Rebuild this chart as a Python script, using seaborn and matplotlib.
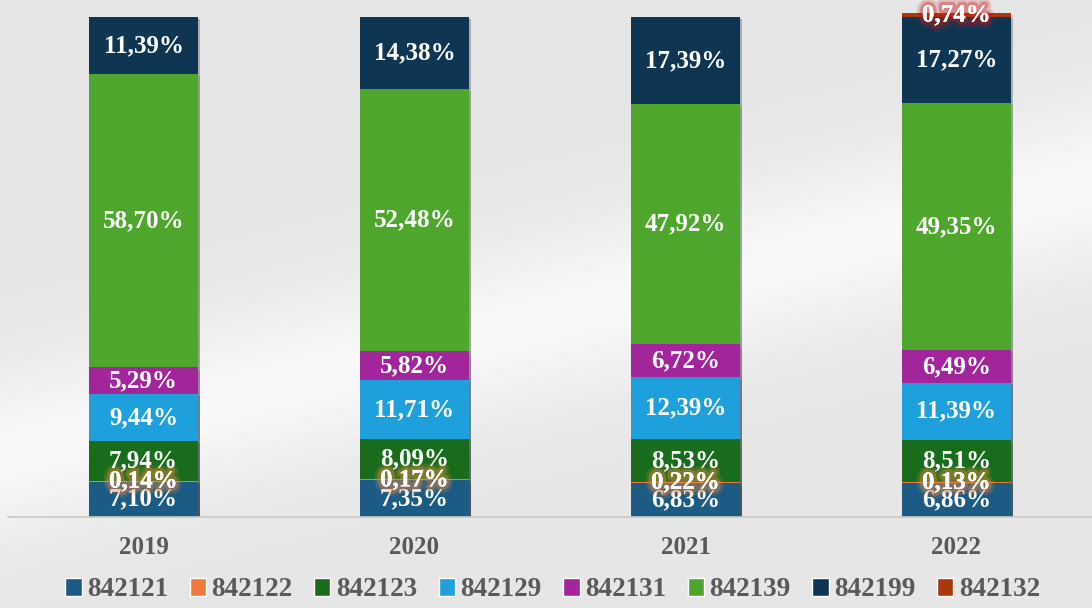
import matplotlib
matplotlib.use("Agg")
import matplotlib.pyplot as plt
import matplotlib.patheffects as pe
from matplotlib.patches import Patch
import seaborn as sns
import pandas as pd
import numpy as np

# data (shares in %)
years = ["2019", "2020", "2021", "2022"]
codes = ["842121", "842122", "842123", "842129", "842131", "842139", "842199", "842132"]
v842121 = [7.10, 7.35, 6.83, 6.86]
v842122 = [0.14, 0.17, 0.22, 0.13]
v842123 = [7.94, 8.09, 8.53, 8.51]
v842129 = [9.44, 11.71, 12.39, 11.39]
v842131 = [5.29, 5.82, 6.72, 6.49]
v842139 = [58.70, 52.48, 47.92, 49.35]
v842199 = [11.39, 14.38, 17.39, 17.27]
v842132 = [0.0, 0.0, 0.0, 0.74]

colors = ["#1c5c84", "#f07a3a", "#186c1c", "#1ea0dc", "#a2259c", "#4ea72c", "#0e3652", "#a8380e"]
glow = {"842122": "#f08a40", "842132": "#c81818"}

df = pd.DataFrame({"year": years, "842121": v842121, "842122": v842122, "842123": v842123,
                   "842129": v842129, "842131": v842131, "842139": v842139,
                   "842199": v842199, "842132": v842132})
cum = df[codes].cumsum(axis=1)

sns.set_style("white")
plt.rcParams["font.family"] = ["Liberation Serif", "DejaVu Serif"]

fig = plt.figure(figsize=(10.92, 6.08), dpi=100)
fig.patch.set_facecolor("#e9e9e9")

# soft background with a light diagonal sweep
bg = fig.add_axes([0, 0, 1, 1], zorder=-1)
yy, xx = np.mgrid[0:1:200j, 0:1:300j]
band = np.exp(-((yy - (0.75 - 0.45 * xx)) ** 2) / 0.02)
bg.imshow(0.90 + 0.07 * band, cmap="gray", vmin=0, vmax=1, aspect="auto", extent=[0, 1, 0, 1])
bg.axis("off")

ax = fig.add_axes([8 / 1092, 91 / 608, 1 - 8 / 1092, 517 / 608])
ax.patch.set_alpha(0)

# stacked bars drawn as cumulative heights, topmost first
for code, col in reversed(list(zip(codes, colors))):
    sns.barplot(x=df["year"], y=cum[code], color=col, width=0.405, ax=ax,
                saturation=1, edgecolor="none")
for p in ax.patches:
    p.set_path_effects([pe.SimplePatchShadow(offset=(1.5, -1.5), alpha=0.15), pe.Normal()])

for i in range(len(years)):
    bottom = 0
    for code in codes:
        v = df[code][i]
        if v > 0:
            if code in glow:
                effects = [pe.withStroke(linewidth=9, foreground=glow[code], alpha=0.18),
                           pe.withStroke(linewidth=5, foreground=glow[code], alpha=0.35),
                           pe.Normal()]
            else:
                effects = []
            ax.text(i, bottom + v / 2, f"{v:.2f}%".replace(".", ","), ha="center", va="center",
                    color="white", fontsize=18, fontweight="bold", path_effects=effects)
        bottom += v

ax.set_xlim(-0.5, 3.5)
ax.set_ylim(0, 103.4)
ax.set_xlabel("")
ax.set_ylabel("")
ax.set_yticks([])
ax.tick_params(axis="x", length=0, pad=14, labelsize=18, labelcolor="#595959")
for lab in ax.get_xticklabels():
    lab.set_fontweight("bold")
for s in ["top", "left", "right"]:
    ax.spines[s].set_visible(False)
ax.spines["bottom"].set_color("#c8c8c8")
ax.spines["bottom"].set_linewidth(1.2)

handles = [Patch(facecolor=c, label=k) for k, c in zip(codes, colors)]
fig.legend(handles=handles, loc="center", ncol=8, frameon=False,
           bbox_to_anchor=(0.506, 1 - 590 / 608), handlelength=0.6, handleheight=0.6,
           handletextpad=0.2, columnspacing=0.8,
           prop={"size": 19.5, "weight": "bold"}, labelcolor="#595959")

fig.savefig("out.png", dpi=100, facecolor=fig.get_facecolor())
